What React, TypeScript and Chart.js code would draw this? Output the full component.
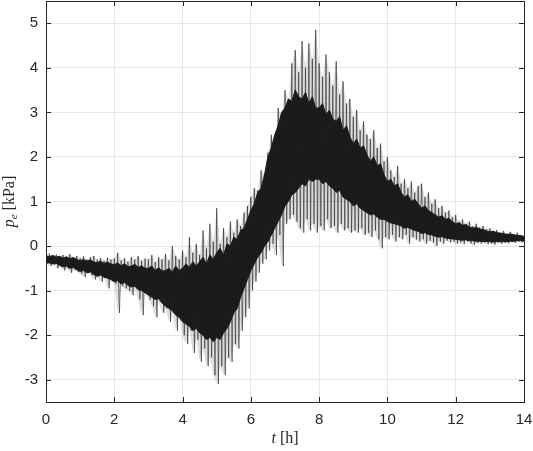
import React, { useEffect, useRef } from "react";
import { Chart, registerables } from "chart.js";

Chart.register(...registerables);

// All series are sampled every 0.1 h from 0 to 14 h
const STEP_H = 0.1;

// Upper extremes of the trace (kPa)
const SPIKE_HI = [
  -0.2, -0.17, -0.22, -0.19, -0.24, -0.2, -0.23, -0.18, -0.25, -0.22,
  -0.27, -0.23, -0.3, -0.25, -0.22, -0.3, -0.27, -0.33, -0.26, -0.3,
  -0.28, -0.15, -0.32, -0.27, -0.35, -0.25, -0.3, -0.22, -0.33, -0.28,
  -0.3, -0.2, -0.36, -0.25, -0.3, -0.18, -0.32, 0.0, -0.22, -0.3,
  -0.1, -0.25, 0.2, -0.15, 0.05, -0.2, 0.35, -0.05, 0.5, 0.1,
  0.85, 0.05, 0.4, 0.2, 0.55, 0.3, 0.6, 0.45, 0.75, 0.9,
  1.1, 1.3, 1.25, 1.7, 1.6, 2.1, 2.5, 2.2, 3.1, 2.9,
  3.5, 3.3, 4.1, 4.4, 3.9, 4.6, 4.0, 4.55, 4.2, 4.85,
  4.1, 3.8, 4.3, 3.9, 3.6, 4.15, 3.4, 3.7, 3.2, 3.3,
  2.9, 3.05, 2.6, 2.8, 2.5, 2.4, 2.6, 2.2, 2.3, 1.9,
  2.0, 1.7, 1.55, 1.8, 1.4, 1.5, 1.3, 1.45, 1.2, 1.35,
  1.4, 1.1, 1.2, 0.95, 1.05, 0.85, 0.9, 0.75, 0.8, 0.65,
  0.7, 0.55, 0.6, 0.5, 0.55, 0.45, 0.5, 0.42, 0.45, 0.38,
  0.4, 0.33, 0.36, 0.3, 0.34, 0.28, 0.32, 0.27, 0.3, 0.25,
  0.22,
];

// Lower extremes of the trace (kPa)
const SPIKE_LO = [
  -0.4, -0.45, -0.42, -0.5, -0.46, -0.55, -0.5, -0.6, -0.53, -0.58,
  -0.62, -0.7, -0.6, -0.66, -0.75, -0.68, -0.8, -0.72, -0.95, -0.78,
  -0.85, -1.5, -0.9, -0.95, -1.0, -1.1, -0.95, -1.2, -1.55, -1.05,
  -1.2, -1.35, -1.6, -1.25, -1.5, -1.4, -1.7, -1.5, -1.9, -1.6,
  -2.0, -2.2, -1.9, -2.4, -2.1, -2.6, -2.3, -2.7, -2.5, -2.9,
  -3.1, -2.7, -2.9, -2.5, -2.6, -2.2, -2.3, -1.9, -1.6, -1.4,
  -1.0, -0.8, -0.6, -0.4, -0.3, -0.1, 0.05, -0.2, 0.25, -0.45,
  0.5, 0.6, 0.7, 0.55, 0.4, 0.3, 0.6, 0.35, 0.5, 0.3,
  0.45, 0.35, 0.6, 0.4, 0.45, 0.3, 0.5, 0.35, 0.4, 0.3,
  0.35, 0.3, 0.4, 0.25, 0.3, 0.2, 0.35, 0.15, -0.05, 0.2,
  0.15, 0.25, 0.1, 0.2, 0.15, 0.25, 0.05, 0.2, 0.15, 0.1,
  0.15, 0.05, 0.12, 0.08, 0.0, 0.1, 0.05, 0.12, 0.08, 0.1,
  0.05, 0.08, 0.04, 0.1, 0.06, 0.03, 0.07, 0.05, 0.08, 0.04,
  0.06, 0.03, 0.08, 0.05, 0.07, 0.06, 0.09, 0.07, 0.1, 0.08,
  0.1,
];

// Upper edge of the dense dark core (kPa)
const CORE_HI = [
  -0.22, -0.24, -0.21, -0.25, -0.23, -0.27, -0.25, -0.28, -0.26, -0.3,
  -0.33, -0.3, -0.34, -0.31, -0.36, -0.37, -0.34, -0.39, -0.36, -0.4,
  -0.42, -0.38, -0.44, -0.4, -0.46, -0.45, -0.41, -0.48, -0.44, -0.5,
  -0.5, -0.45, -0.55, -0.48, -0.56, -0.55, -0.5, -0.58, -0.45, -0.55,
  -0.5, -0.4, -0.48, -0.35, -0.45, -0.35, -0.25, -0.4, -0.2, -0.3,
  -0.15, -0.05, -0.2, 0.05, 0.0, 0.2, 0.15, 0.35, 0.4, 0.6,
  0.8, 0.95, 1.2, 1.3, 1.6, 2.0, 2.2, 2.5, 2.7, 3.0,
  3.1, 3.3, 3.25, 3.5, 3.35, 3.3, 3.45, 3.2, 3.35, 3.1,
  3.1, 3.2, 2.95, 3.05, 2.85, 2.8, 2.9, 2.6, 2.7, 2.45,
  2.3, 2.4, 2.2, 2.25, 2.05, 1.9, 2.0, 1.8, 1.85, 1.6,
  1.45, 1.5, 1.35, 1.4, 1.2, 1.1, 1.15, 1.0, 1.05, 0.95,
  0.85, 0.9, 0.8, 0.75, 0.7, 0.65, 0.68, 0.6, 0.62, 0.55,
  0.5, 0.52, 0.47, 0.48, 0.43, 0.4, 0.42, 0.38, 0.37, 0.34,
  0.32, 0.33, 0.3, 0.29, 0.28, 0.26, 0.27, 0.25, 0.24, 0.23,
  0.22,
];

// Lower edge of the dense dark core (kPa)
const CORE_LO = [
  -0.36, -0.38, -0.4, -0.39, -0.43, -0.47, -0.45, -0.5, -0.48, -0.53,
  -0.57, -0.55, -0.6, -0.58, -0.64, -0.68, -0.65, -0.7, -0.72, -0.75,
  -0.8, -0.78, -0.85, -0.82, -0.88, -0.92, -0.9, -0.98, -1.0, -1.05,
  -1.1, -1.15, -1.2, -1.18, -1.28, -1.35, -1.4, -1.45, -1.55, -1.6,
  -1.7, -1.75, -1.8, -1.9, -1.85, -1.95, -2.0, -2.1, -2.05, -2.15,
  -2.05, -2.1, -1.95, -1.85, -1.7, -1.5, -1.4, -1.15, -0.95, -0.75,
  -0.55, -0.4, -0.25, -0.15, 0.0, 0.1, 0.25, 0.4, 0.55, 0.7,
  0.9, 1.0, 1.15, 1.2, 1.3, 1.4, 1.35, 1.5, 1.45, 1.5,
  1.5, 1.4, 1.45, 1.35, 1.3, 1.2, 1.25, 1.1, 1.05, 1.0,
  0.9, 0.95, 0.85, 0.8, 0.75, 0.7, 0.72, 0.65, 0.6, 0.6,
  0.55, 0.52, 0.5, 0.48, 0.45, 0.4, 0.42, 0.38, 0.35, 0.33,
  0.28, 0.3, 0.26, 0.25, 0.22, 0.2, 0.21, 0.18, 0.17, 0.16,
  0.15, 0.14, 0.13, 0.14, 0.12, 0.12, 0.11, 0.11, 0.1, 0.1,
  0.1, 0.09, 0.1, 0.1, 0.1, 0.1, 0.11, 0.11, 0.12, 0.12,
  0.12,
];

const X_TICKS = [0, 2, 4, 6, 8, 10, 12, 14];
const Y_TICKS = [-3, -2, -1, 0, 1, 2, 3, 4, 5];

const AXIS_COLOR = "#262626";

const boxPlugin = {
  id: "matlabBox",
  afterDraw(chart: any) {
    const { ctx, chartArea } = chart;
    const { left, right, top, bottom } = chartArea;
    const xs = chart.scales.x;
    const ys = chart.scales.y;
    ctx.save();
    ctx.strokeStyle = AXIS_COLOR;
    ctx.lineWidth = 1;
    ctx.strokeRect(Math.round(left) + 0.5, Math.round(top) + 0.5, Math.round(right - left), Math.round(bottom - top));
    ctx.beginPath();
    const L = 5;
    X_TICKS.forEach((v) => {
      const px = Math.round(xs.getPixelForValue(v)) + 0.5;
      ctx.moveTo(px, bottom);
      ctx.lineTo(px, bottom - L);
      ctx.moveTo(px, top);
      ctx.lineTo(px, top + L);
    });
    Y_TICKS.forEach((v) => {
      const py = Math.round(ys.getPixelForValue(v)) + 0.5;
      ctx.moveTo(left, py);
      ctx.lineTo(left + L, py);
      ctx.moveTo(right, py);
      ctx.lineTo(right - L, py);
    });
    ctx.stroke();

    // axis titles
    ctx.fillStyle = "#262626";
    ctx.textBaseline = "alphabetic";
    const fI = 'italic 16px "Liberation Serif"';
    const fN = '16px "Liberation Serif"';
    ctx.font = fI;
    const wt = ctx.measureText("t").width;
    ctx.font = fN;
    const wr = ctx.measureText(" [h]").width;
    const cx = (left + right) / 2;
    const x0 = cx - (wt + wr) / 2;
    const by = 443;
    ctx.font = fI;
    ctx.fillText("t", x0, by);
    ctx.font = fN;
    ctx.fillText(" [h]", x0 + wt, by);

    const fSub = 'italic 11px "Liberation Serif"';
    ctx.font = fI;
    const wp = ctx.measureText("p").width;
    ctx.font = fSub;
    const we = ctx.measureText("e").width;
    ctx.font = fN;
    const wk = ctx.measureText(" [kPa]").width;
    const total = wp + we + wk;
    ctx.translate(14, (top + bottom) / 2);
    ctx.rotate(-Math.PI / 2);
    let sx = -total / 2;
    ctx.font = fI;
    ctx.fillText("p", sx, 0);
    sx += wp;
    ctx.font = fSub;
    ctx.fillText("e", sx, 3);
    sx += we;
    ctx.font = fN;
    ctx.fillText(" [kPa]", sx, 0);
    ctx.restore();
  },
};

export default function App() {
  const ref = useRef<HTMLCanvasElement | null>(null);

  useEffect(() => {
    if (!ref.current) return;
    const zig: { x: number; y: number }[] = [];
    SPIKE_HI.forEach((hi, i) => {
      const t = i * STEP_H;
      zig.push({ x: t, y: hi });
      zig.push({ x: Math.min(14, t + STEP_H / 2), y: SPIKE_LO[i] });
    });
    const at = (arr: number[]) => arr.map((v, i) => ({ x: i * STEP_H, y: v }));

    const fixPad = (s: any) => {
      s.paddingTop = 0;
      s.paddingBottom = 0;
      s.paddingLeft = 0;
      s.paddingRight = 0;
    };

    const chart = new Chart(ref.current, {
      type: "line",
      data: {
        datasets: [
          {
            data: zig,
            borderColor: "rgba(25,25,25,0.55)",
            borderWidth: 1,
            pointRadius: 0,
            fill: false,
            order: 0,
          },
          {
            data: at(CORE_LO),
            borderColor: "#1c1c1c",
            borderWidth: 1,
            pointRadius: 0,
            fill: false,
            order: 2,
          },
          {
            data: at(CORE_HI),
            borderColor: "#1c1c1c",
            backgroundColor: "#1c1c1c",
            borderWidth: 1,
            pointRadius: 0,
            fill: "-1",
            order: 1,
          },
          {
            data: at(SPIKE_LO),
            borderWidth: 0,
            borderColor: "rgba(0,0,0,0)",
            pointRadius: 0,
            fill: false,
            order: 4,
          },
          {
            data: at(SPIKE_HI),
            borderWidth: 0,
            borderColor: "rgba(0,0,0,0)",
            backgroundColor: "rgba(0,0,0,0.13)",
            pointRadius: 0,
            fill: "-1",
            order: 3,
          },
        ],
      },
      options: {
        responsive: false,
        animation: false,
        devicePixelRatio: 1,
        layout: { padding: { top: 1, right: 9, left: 0, bottom: 0 } },
        plugins: { legend: { display: false }, tooltip: { enabled: false } },
        scales: {
          x: {
            type: "linear",
            min: 0,
            max: 14,
            afterBuildTicks: (s: any) => {
              s.ticks = X_TICKS.map((v) => ({ value: v }));
            },
            afterFit: (s: any) => {
              s.height = 49;
              fixPad(s);
            },
            ticks: {
              color: AXIS_COLOR,
              font: { family: '"Liberation Sans", Arial, sans-serif', size: 15 },
              padding: 9,
              maxRotation: 0,
            },
            grid: { color: "#e6e6e6", drawTicks: false },
            border: { display: false },
          },
          y: {
            type: "linear",
            min: -3.5,
            max: 5.5,
            afterBuildTicks: (s: any) => {
              s.ticks = Y_TICKS.map((v) => ({ value: v }));
            },
            afterFit: (s: any) => {
              s.width = 46;
              fixPad(s);
            },
            ticks: {
              color: AXIS_COLOR,
              font: { family: '"Liberation Sans", Arial, sans-serif', size: 15 },
              padding: 8,
            },
            grid: { color: "#e6e6e6", drawTicks: false },
            border: { display: false },
          },
        },
      },
      plugins: [boxPlugin],
    } as any);
    return () => chart.destroy();
  }, []);

  return (
    <div style={{ position: "fixed", left: 0, top: 0, width: 533, height: 451, background: "#fff" }}>
      <canvas ref={ref} width={533} height={451} style={{ display: "block", width: 533, height: 451 }} />
    </div>
  );
}
